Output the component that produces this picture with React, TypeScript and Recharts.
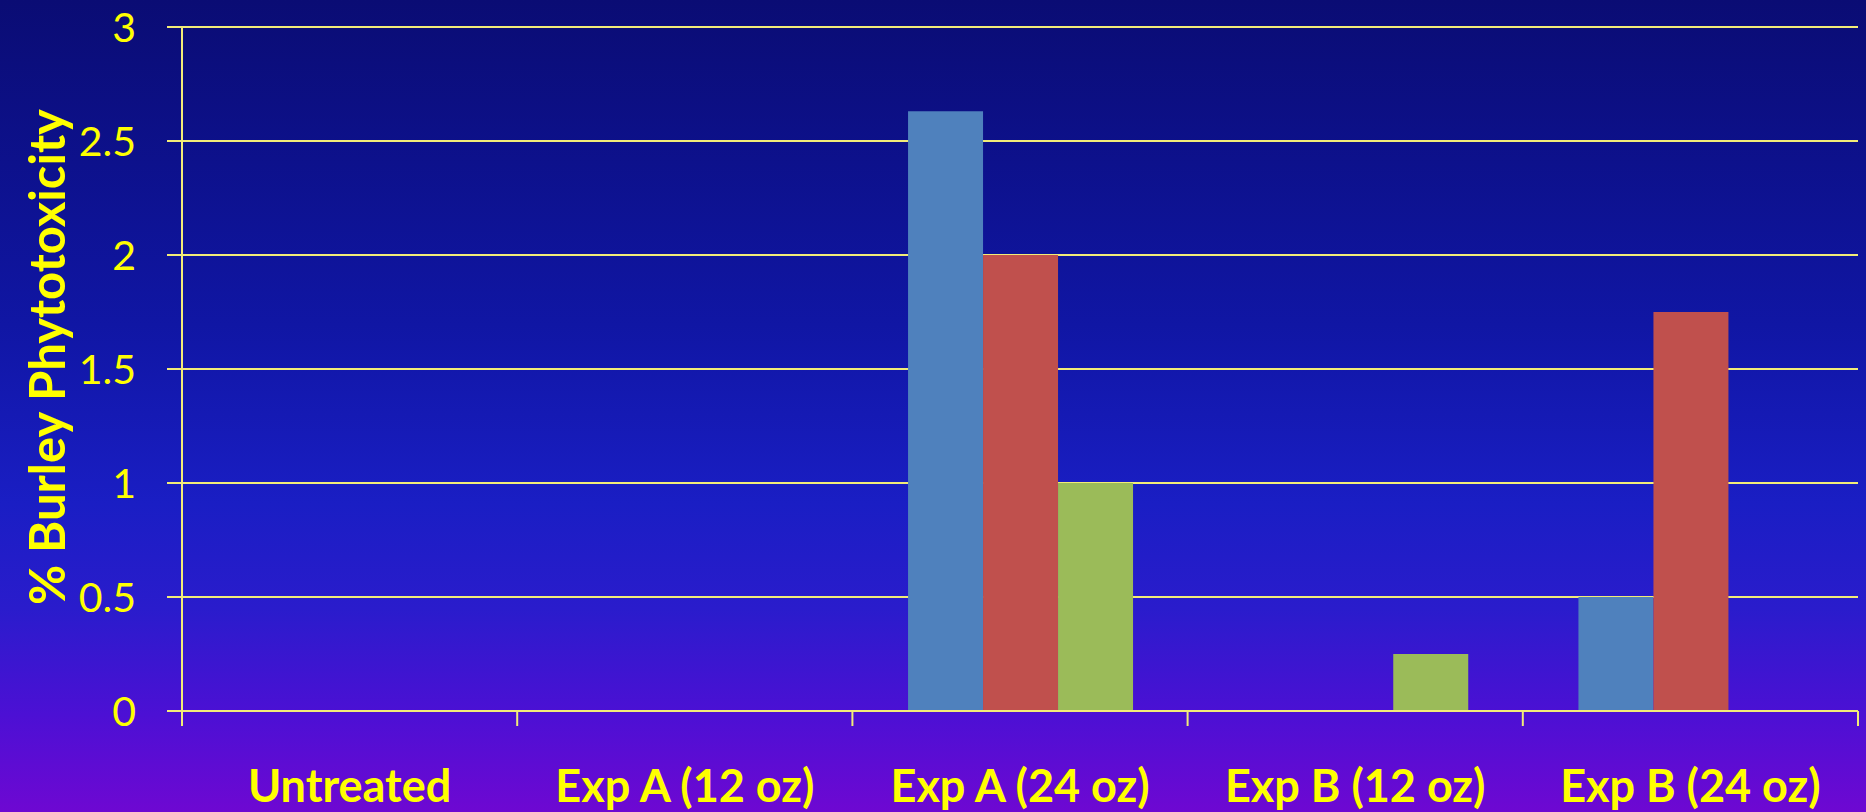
import { BarChart, Bar, XAxis, YAxis, CartesianGrid } from 'recharts';

const categories = ['Untreated', 'Exp A (12 oz)', 'Exp A (24 oz)', 'Exp B (12 oz)', 'Exp B (24 oz)'];
const series1 = [0, 0, 2.63, 0, 0.5];
const series2 = [0, 0, 2, 0, 1.75];
const series3 = [0, 0, 1, 0.25, 0];
const yTicks = [0, 0.5, 1, 1.5, 2, 2.5, 3];

const data = categories.map((name, i) => ({
  name,
  s1: series1[i],
  s2: series2[i],
  s3: series3[i]
}));

const YELLOW = '#ffff00';
const LINE = '#f2ec78';
const FONT = 'Lato, "Open Sans", sans-serif';

const CHART_W = 1866;
const CHART_H = 812;
const AXIS_W = 182;
const RIGHT = 8;
const BAND = (CHART_W - AXIS_W - RIGHT) / categories.length;

// label plus the boundary tick marks between categories
function CategoryTick(props: any) {
  const { x, y, payload, index } = props;
  const left = x - BAND / 2;
  const right = x + BAND / 2;
  return (
    <g>
      <line x1={left} x2={left} y1={y} y2={y + 15} stroke={LINE} strokeWidth={2} />
      {index === categories.length - 1 && (
        <line x1={right} x2={right} y1={y} y2={y + 15} stroke={LINE} strokeWidth={2} />
      )}
      <text x={x} y={y + 91} textAnchor="middle" fill={YELLOW} fontFamily={FONT} fontWeight={700} fontSize={45}>
        {payload.value}
      </text>
    </g>
  );
}

function AxisTitle() {
  return (
    <text
      transform="translate(46,357) rotate(-90)"
      textAnchor="middle"
      dominantBaseline="central"
      fill={YELLOW}
      fontFamily={FONT}
      fontWeight={700}
      fontSize={49}
    >
      % Burley Phytotoxicity
    </text>
  );
}

export default function App() {
  return (
    <div
      style={{
        position: 'fixed',
        left: 0,
        top: 0,
        width: CHART_W,
        height: CHART_H,
        background:
          'linear-gradient(to bottom, #0a0c74 0%, #1016a4 40%, #1a1ec4 62%, #2a1ccc 75%, #4c10d4 88%, #6e08d2 100%)'
      }}
    >
      <BarChart
        width={CHART_W}
        height={CHART_H}
        data={data}
        margin={{ top: 27, right: RIGHT, bottom: 0, left: 0 }}
        barCategoryGap="16.6%"
        barGap={0}
      >
        <CartesianGrid horizontal vertical={false} stroke={LINE} strokeWidth={2} />
        <XAxis
          dataKey="name"
          height={101}
          axisLine={{ stroke: LINE, strokeWidth: 2 }}
          tickLine={false}
          tickSize={0}
          tickMargin={0}
          interval={0}
          tick={<CategoryTick />}
        />
        <YAxis
          width={AXIS_W}
          domain={[0, 3]}
          ticks={yTicks}
          tickSize={15}
          tickMargin={31}
          axisLine={{ stroke: LINE, strokeWidth: 2 }}
          tickLine={{ stroke: LINE, strokeWidth: 2 }}
          tick={{ fill: YELLOW, fontFamily: FONT, fontSize: 41 }}
          label={<AxisTitle />}
        />
        <Bar dataKey="s1" name="Series 1" fill="#4f81bd" isAnimationActive={false} />
        <Bar dataKey="s2" name="Series 2" fill="#c0504d" isAnimationActive={false} />
        <Bar dataKey="s3" name="Series 3" fill="#9bbb59" isAnimationActive={false} />
      </BarChart>
    </div>
  );
}
